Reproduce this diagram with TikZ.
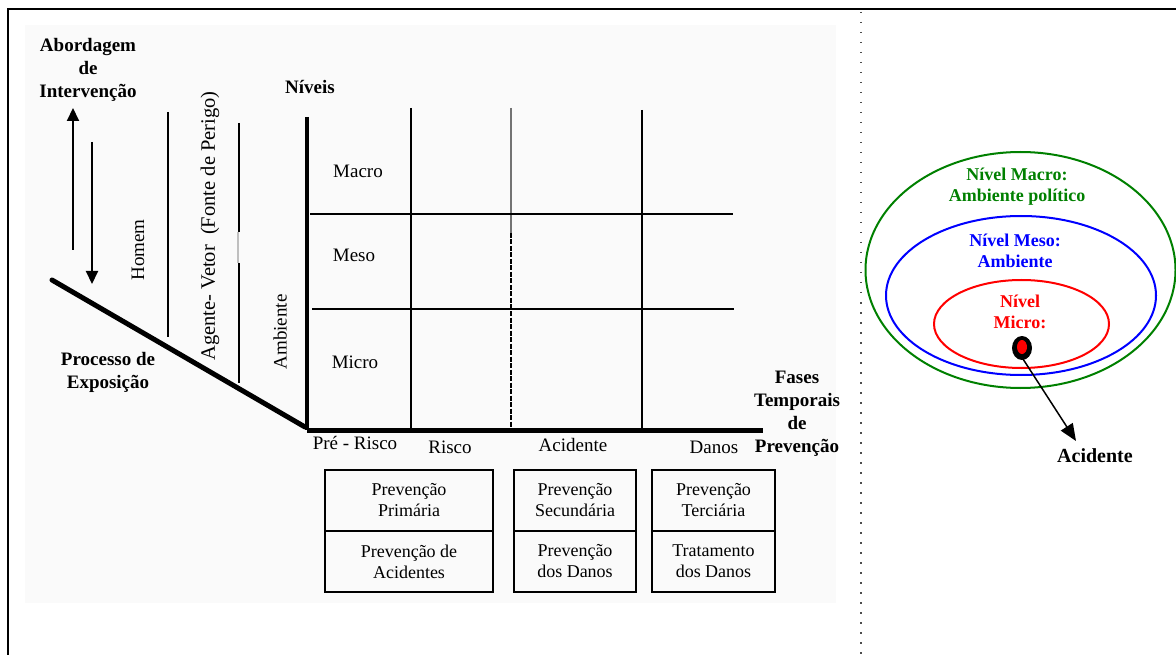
\documentclass[tikz,border=0pt]{standalone}
\usepackage{fontspec}
\setmainfont{Liberation Serif}
\usetikzlibrary{arrows.meta}
\definecolor{macrogreen}{RGB}{0,128,0}

\begin{document}
\begin{tikzpicture}[x=1pt,y=-1pt,
	lbl/.style={font=\fontsize{19}{22}\selectfont, inner sep=0pt, align=center},
	hdr/.style={font=\bfseries\fontsize{19}{23}\selectfont, inner sep=0pt, align=center},
	cell/.style={draw, line width=2.5pt, inner sep=0pt, minimum height=61pt, align=center,
		font=\fontsize{18}{21}\selectfont},
	ring/.style={font=\bfseries\fontsize{18}{20.5}\selectfont, inner sep=0pt, align=center},
	gridline/.style={line width=2pt},
	axis/.style={line width=5pt}]
	\useasboundingbox (0,0) rectangle (1176,655);
	% frame and background
	\fill [black!2] (25,25) rectangle (836,603);
	\draw [line width=2.5pt] (8,655) -- (8,9) -- (1176,9);
	\draw [black!70, line width=1.5pt, dash pattern=on 1.5pt off 8.5pt] (861,12) -- (861,655);
	% left part: intervention and exposure
	\node [hdr] (abord) at (88,70) {Abordagem\\de\\Intervenção};
	\coordinate (upfoot) at (73,250);
	\coordinate (uptip) at (73,108);
	\coordinate (dnfoot) at (92,142);
	\coordinate (dntip) at (92,284);
	\draw [line width=2pt, -{Triangle[length=13pt,width=12pt]}] (upfoot) -- (uptip);
	\draw [line width=2pt, -{Triangle[length=13pt,width=12pt]}] (dnfoot) -- (dntip);
	\coordinate (expstart) at (52,280);
	\coordinate (origin) at (307,430);
	\draw [axis, line cap=round] (expstart) -- (305,427);
	\node [hdr] (processo) at (108,372) {Processo de\\Exposição};
	\draw [gridline] (168,112) -- (168,337);
	\draw [gridline] (239,123) -- (239,232);
	\draw [black!25, line width=1.5pt] (238,232) -- (238,263);
	\draw [gridline] (239,263) -- (239,383);
	\node [lbl, rotate=90] (homem) at (138,250) {Homem};
	\node [lbl, rotate=90, font=\fontsize{20.5}{22}\selectfont] (agente) at (210,226) {Agente- Vetor\ \ (Fonte de Perigo)};
	\node [lbl, rotate=90] (ambiente) at (280,332) {Ambiente};
	% levels and phases grid
	\node [hdr] (niveis) at (310,87) {Níveis};
	\draw [line width=4.5pt] (307,117) -- (origin);
	\draw [axis] (origin) -- (763,430);
	\draw [gridline] (411,108) -- (411,430);
	\draw [gridline, black!55] (511,108) -- (511,233);
	\draw [gridline, dash pattern=on 5pt off 1.5pt] (511,233) -- (511,430);
	\draw [gridline] (642,110) -- (642,430);
	\draw [gridline] (310,214) -- (733,214);
	\draw [gridline] (312,309) -- (734,309);
	\node [lbl] (macro) at (358,171) {Macro};
	\node [lbl] (meso) at (354,255) {Meso};
	\node [lbl] (micro) at (355,362) {Micro};
	\node [lbl] (prerisco) at (355,443) {Pré - Risco};
	\node [lbl] (risco) at (450,447) {Risco};
	\node [lbl] (acid) at (573,445) {Acidente};
	\node [lbl] (danos) at (714,447) {Danos};
	\node [hdr] (fases) at (797,414) {Fases\\Temporais\\de\\Prevenção};
	% prevention boxes
	\node [cell, minimum width=168pt] (prim) at (409,500.5) {Prevenção\\Primária};
	\node [cell, minimum width=168pt] (primb) at (409,561.5) {Prevenção de\\Acidentes};
	\node [cell, minimum width=122pt] (sec) at (575,500.5) {Prevenção\\Secundária};
	\node [cell, minimum width=122pt] (secb) at (575,561.5) {Prevenção\\dos Danos};
	\node [cell, minimum width=123pt] (ter) at (713.5,500.5) {Prevenção\\Terciária};
	\node [cell, minimum width=123pt] (terb) at (713.5,561.5) {Tratamento\\dos Danos};
	% right part: nested levels
	\draw [macrogreen, line width=2pt] (1020.5,270) ellipse (155 and 118);
	\draw [blue, line width=2pt] (1021,295.5) ellipse (135 and 79.5);
	\draw [red, line width=2pt] (1021.5,324) ellipse (87.5 and 44);
	\node [ring, text=macrogreen] (nmacro) at (1017,186.5) {Nível Macro:\\Ambiente político};
	\node [ring, text=blue] (nmeso) at (1015,251) {Nível Meso:\\Ambiente};
	\node [ring, text=red] (nmicro) at (1020,312) {Nível\\Micro:};
	\fill [black] (1022,348) ellipse (10 and 12);
	\fill [red] (1022,347) ellipse (5 and 7);
	\coordinate (dotfoot) at (1023,359);
	\coordinate (acctip) at (1076,441);
	\draw [line width=1.5pt, -{Triangle[length=17pt,width=14pt]}] (dotfoot) -- (acctip);
	\node [font=\bfseries\fontsize{20}{22}\selectfont, inner sep=0pt] (acidente) at (1095,456) {Acidente};
\end{tikzpicture}
\end{document}
